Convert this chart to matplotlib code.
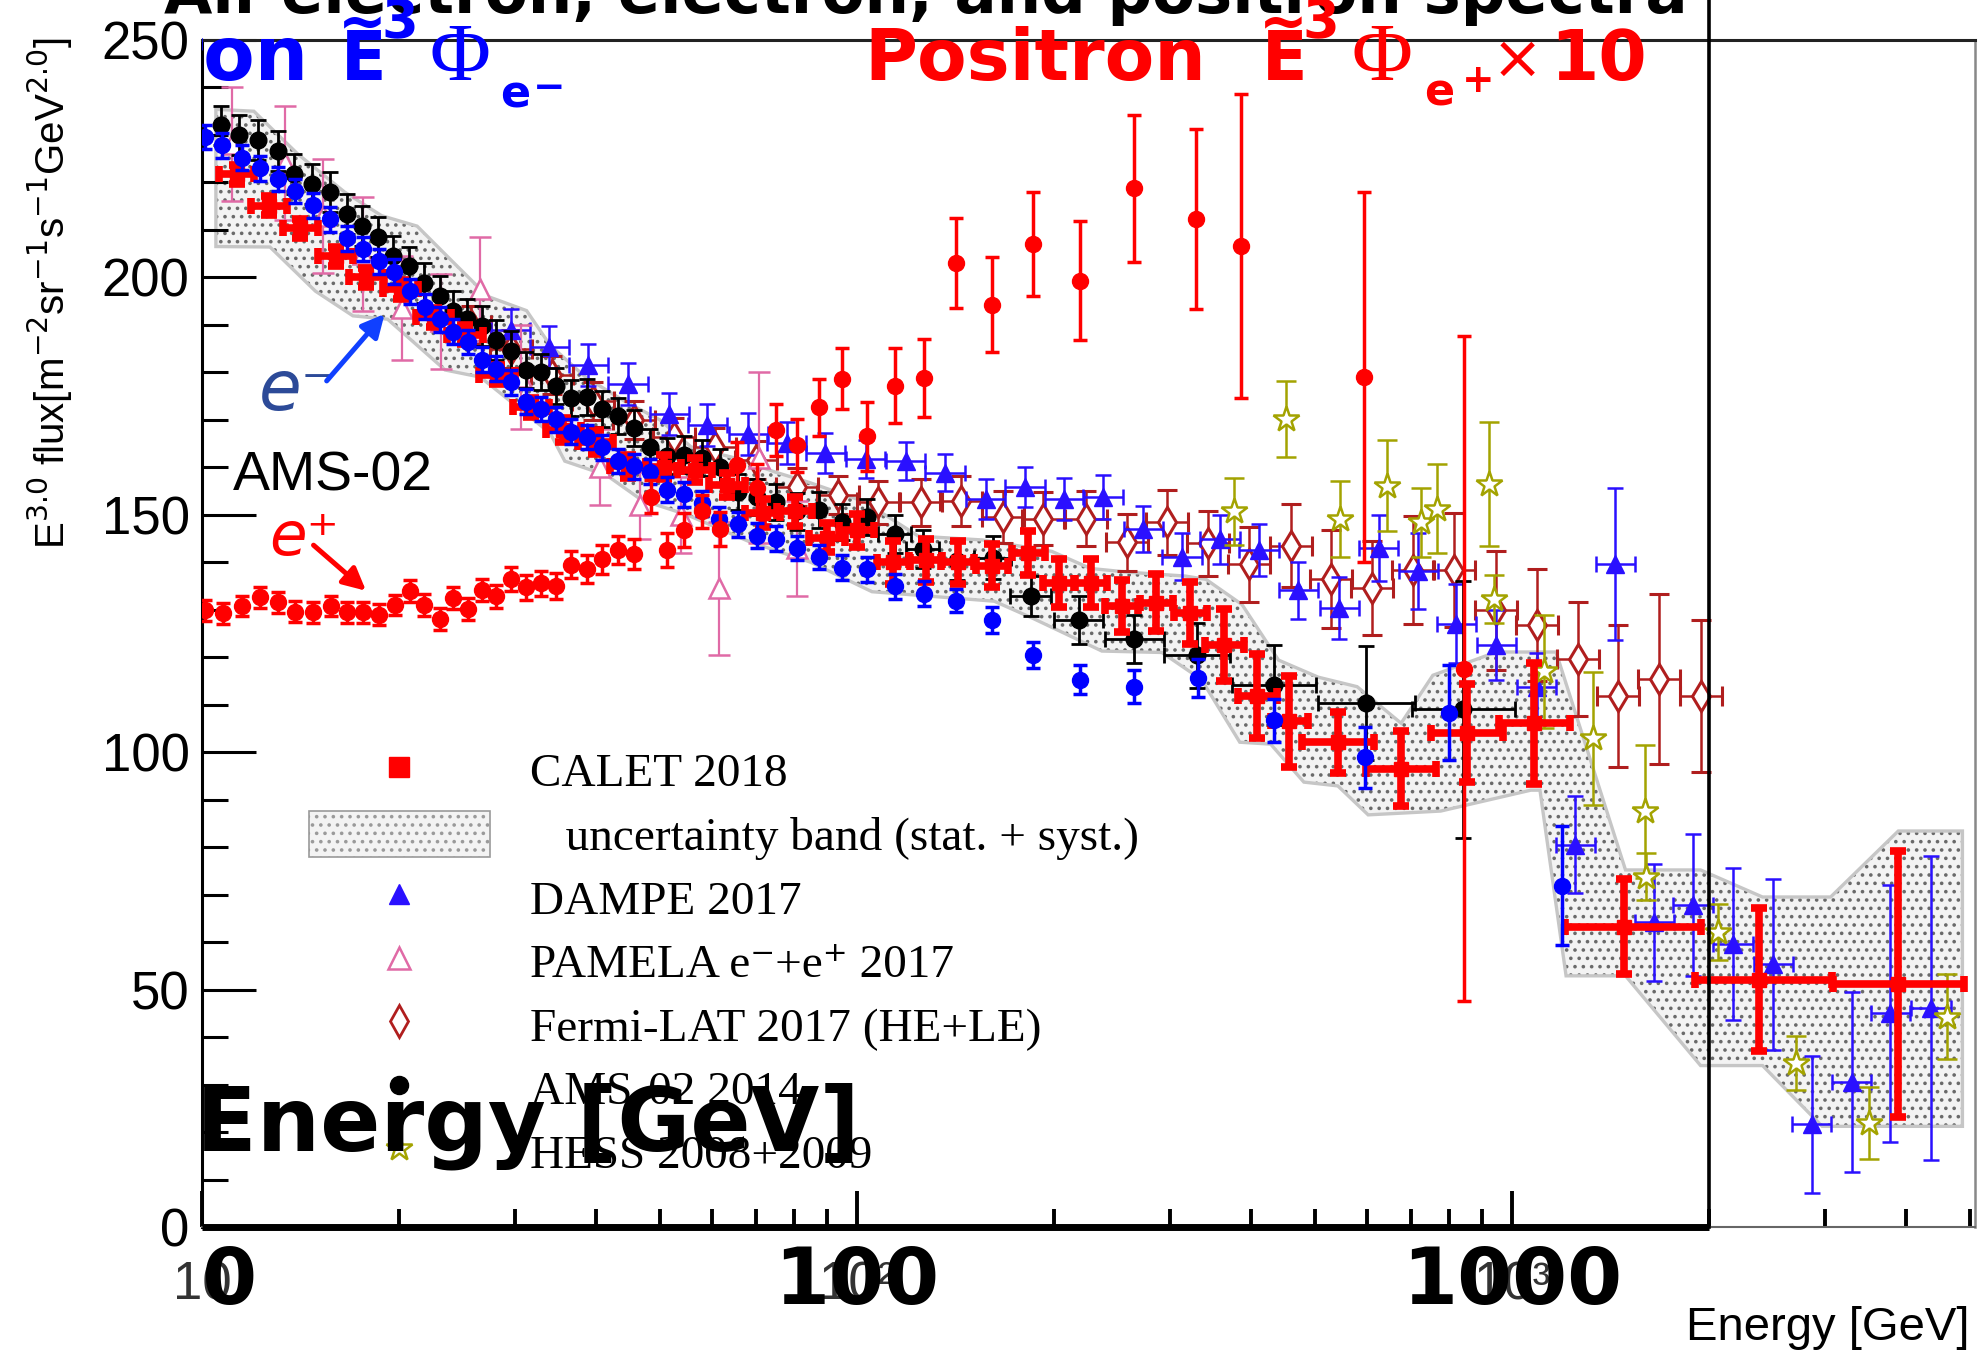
import numpy as np
import matplotlib
matplotlib.use("Agg")
import matplotlib.pyplot as plt
from matplotlib.lines import Line2D
from matplotlib.patches import Patch, Rectangle
from matplotlib.ticker import FixedLocator, NullFormatter

# ---------------- data ----------------
# AMS-02 electrons, E^3 flux
ams_e_E = [10.12, 10.72, 11.49, 12.27, 13.06, 13.89, 14.77, 15.67, 16.63, 17.62,
           18.62, 19.64, 20.76, 21.92, 23.05, 24.13, 25.5, 26.8, 28.15, 29.65,
           31.26, 32.94, 34.71, 36.6, 38.65, 40.86, 43.2, 45.7, 48.3, 51.2,
           54.4, 58.0, 61.6, 65.7, 70.4, 75.3, 81.1, 87.6, 94.9, 103.7,
           114.1, 126.4, 141.7, 160.7, 185.3, 218.8, 264.8, 331, 433.5, 596.6,
           801.5, 1193]
ams_e_V = [229.6, 227.8, 225.2, 223.0, 220.7, 218.2, 215.2, 212.2, 208.2, 206.0,
           203.4, 201.2, 197.1, 193.8, 191.2, 188.6, 186.4, 182.7, 180.8, 177.9,
           173.8, 172.3, 170.1, 167.5, 166.4, 164.2, 161.3, 160.2, 159.1, 155.3,
           154.3, 152.4, 149.1, 148.0, 145.6, 145.0, 143.0, 141.1, 138.9, 138.5,
           134.9, 133.4, 131.9, 127.8, 120.5, 115.3, 113.8, 115.6, 106.7, 98.9,
           108.3, 71.9]
ams_e_err = [2.6, 2.6, 2.6, 2.6, 2.6, 2.6, 2.6, 2.6, 2.6, 2.6,
             2.6, 2.6, 2.6, 2.6, 2.6, 2.6, 2.6, 2.6, 2.6, 2.6,
             2.6, 2.6, 2.6, 2.6, 2.6, 2.6, 2.6, 2.6, 2.6, 2.6,
             2.6, 2.6, 2.6, 2.6, 2.6, 2.6, 2.6, 2.6, 2.6, 2.6,
             2.6, 2.6, 2.4, 2.7, 2.7, 3.0, 3.5, 4.0, 4.6, 6.4,
             10.0, 12.5]

# AMS-02 positrons x10, E^3 flux
ams_p_E = [10.12, 10.76, 11.49, 12.27, 13.06, 13.89, 14.77, 15.71, 16.63, 17.62,
           18.62, 19.69, 20.76, 21.86, 23.05, 24.13, 25.5, 26.8, 28.15, 29.65,
           31.26, 32.94, 34.71, 36.6, 38.65, 40.86, 43.2, 45.7, 48.5, 51.3,
           54.5, 58.0, 61.7, 65.6, 70.4, 75.3, 81.1, 87.6, 94.9, 103.7,
           114.1, 126.4, 141.7, 160.7, 185.3, 218.8, 264.8, 328.7, 385, 594,
           845]
ams_p_V = [129.9, 129.3, 130.8, 132.6, 131.6, 129.6, 129.5, 130.8, 129.5, 129.5,
           129.0, 131.0, 133.9, 131.0, 128.0, 132.5, 130.2, 134.1, 132.8, 136.5,
           134.7, 135.6, 135.0, 139.5, 138.6, 140.6, 142.6, 141.7, 153.8, 142.6,
           146.8, 150.7, 147.0, 160.5, 155.7, 167.9, 164.6, 172.7, 178.7, 166.5,
           177.2, 178.8, 203.0, 194.2, 207.0, 199.3, 218.8, 212.3, 206.6, 179.0,
           117.6]
ams_p_err = [2.2, 2.2, 2.2, 2.2, 2.2, 2.2, 2.2, 2.2, 2.2, 2.2,
             2.2, 2.2, 2.3, 2.3, 2.3, 2.3, 2.3, 2.3, 2.4, 2.5,
             2.6, 2.6, 2.7, 2.8, 2.9, 3.0, 3.0, 3.2, 3.5, 3.5,
             3.5, 3.5, 3.6, 4.8, 5.0, 5.5, 5.6, 6.0, 6.5, 7.2,
             7.9, 8.3, 9.5, 10.0, 11.0, 12.5, 15.5, 19.0, 32.0, 39.0,
             70.0]

# AMS-02 2014 (electron + positron)
ams14_E = [10.69, 11.4, 12.16, 13.06, 13.82, 14.7, 15.67, 16.63, 17.57, 18.57,
           19.56, 20.73, 21.86, 23.05, 24.13, 25.4, 26.8, 28.15, 29.65, 31.26,
           32.94, 34.71, 36.6, 38.65, 40.86, 43.2, 45.7, 48.3, 51.2, 54.4,
           58.0, 61.7, 65.8, 70.4, 75.3, 81.1, 87.6, 94.9, 103.7, 114.1,
           126, 142, 161, 184.1, 217.9, 264.8, 330.5, 433.5, 598.6, 843]
ams14_V = [232.0, 230.0, 228.9, 226.6, 221.8, 219.6, 218.0, 213.4, 210.8, 208.6,
           204.5, 202.3, 198.9, 196.0, 193.0, 191.2, 189.7, 186.8, 184.5, 180.5,
           180.1, 177.1, 174.6, 174.9, 172.3, 170.9, 168.3, 164.2, 162.4, 162.7,
           162.0, 160.1, 154.8, 153.7, 152.6, 150.7, 151.1, 148.5, 149.6, 145.9,
           142.7, 140.3, 141.0, 132.9, 127.8, 123.8, 120.4, 114.2, 110.4, 109.0]
ams14_err = [4.2, 4.2, 4.2, 4.2, 4.2, 4.2, 4.2, 4.2, 4.2, 4.2,
             4.2, 4.2, 4.2, 4.2, 4.2, 4.2, 4.2, 4.2, 4.2, 3.8,
             3.8, 3.8, 3.8, 3.8, 3.8, 3.8, 3.8, 3.8, 3.8, 3.8,
             3.8, 3.8, 3.8, 3.8, 3.8, 3.8, 3.8, 3.8, 3.8, 4.0,
             4.0, 4.0, 4.5, 4.2, 5.0, 5.0, 6.9, 8.4, 12.0, 27.0]
ams14_dex = [0, 0, 0, 0, 0, 0, 0, 0, 0, 0,
             0, 0, 0, 0, 0, 0, 0, 0, 0, 0,
             0, 0, 0, 0, 0, 0, 0, 0, 0, 0,
             0, 0, 0, 0, 0, 0, 0, 0, 0, 0.025,
             0.025, 0.025, 0.028, 0.031, 0.038, 0.045, 0.05, 0.064, 0.074, 0.079]

# CALET 2018
calet_E = [11.30, 12.66, 14.13, 15.99, 17.82, 20.1, 22.57, 25.2, 28.2, 31.8,
           35.6, 39.9, 44.7, 50.7, 56.5, 63.3, 71.8, 80.3, 90.0, 99.9,
           113.6, 127.3, 142.4, 160.7, 182.5, 203.3, 227.5, 253.5, 286.5, 322.6,
           363.7, 408.4, 456.9, 542, 677, 854, 1082, 1481, 2381, 3886]
calet_V = [221.7, 215.1, 210.3, 204.5, 200.0, 197.5, 191.6, 187.9, 179.5, 172.7,
           167.9, 165.3, 160.2, 160.0, 159.5, 156.2, 150.4, 150.7, 145.2, 146.7,
           140.0, 140.4, 140.0, 139.3, 141.9, 135.6, 135.6, 130.8, 131.5, 129.3,
           122.6, 111.8, 106.5, 102.1, 96.5, 104.1, 106.1, 63.2, 52.1, 51.1]
calet_err = [2, 2, 2, 2, 2, 2, 2, 2, 2, 2,
             2.5, 2.5, 2.5, 2.5, 2.5, 2.5, 3, 3, 3, 3.5,
             4.5, 4.5, 4.5, 4.5, 4.6, 5, 5, 5.5, 6, 6.5,
             7.5, 8.9, 9.6, 6.4, 7.9, 10.3, 12.7, 10, 15, 28]
calet_dex_lo = [0.027, 0.027, 0.027, 0.027, 0.027, 0.027, 0.027, 0.027, 0.027, 0.027,
                0.027, 0.027, 0.027, 0.027, 0.027, 0.027, 0.027, 0.027, 0.027, 0.027,
                0.025, 0.025, 0.025, 0.025, 0.025, 0.025, 0.025, 0.025, 0.025, 0.025,
                0.03, 0.03, 0.028, 0.055, 0.054, 0.055, 0.054, 0.09, 0.097, 0.10]
calet_dex_hi = [0.027, 0.027, 0.027, 0.027, 0.027, 0.027, 0.027, 0.027, 0.027, 0.027,
                0.027, 0.027, 0.027, 0.027, 0.027, 0.027, 0.027, 0.027, 0.027, 0.027,
                0.025, 0.025, 0.025, 0.025, 0.025, 0.025, 0.025, 0.025, 0.025, 0.025,
                0.03, 0.03, 0.028, 0.055, 0.054, 0.055, 0.054, 0.118, 0.112, 0.10]

# CALET uncertainty band (outline vertices)
band_up_E = [10.5, 12.0, 14.0, 16.5, 18.8, 21.3, 24.1, 27.3, 31.3, 34.0,
             38.5, 44.2, 50.0, 55.8, 65, 75, 84.6, 102.5, 124.1, 155.5,
             198.3, 227.2, 260, 317, 341, 387, 440, 506, 580, 677,
             757, 946, 1167, 1490, 1940, 2412, 3064, 3887, 4870]
band_up_V = [235.4, 235.0, 226, 218, 213, 210.8, 203.4, 196, 193, 185.7,
             179, 173.9, 170, 164.3, 162, 159, 156.8, 152.8, 145.5, 144.7,
             142.3, 138.7, 137.9, 137.1, 136.4, 131.1, 119.4, 115.8, 113.8, 106.1,
             116.2, 121.1, 121.1, 75.2, 75.2, 69.5, 69.5, 83.4, 83.4]
band_lo_E = [10.5, 12.7, 14.9, 17.0, 19.2, 23.5, 26.6, 34.0, 35.8, 41.5,
             46.9, 55, 68.6, 85, 105.4, 162, 185.5, 236.5, 292, 335.6,
             384, 428, 481, 542, 603, 778, 1068, 1103, 1209, 1490,
             1940, 2412, 2974, 4870]
band_lo_V = [206.5, 206.4, 197.1, 191.9, 191.2, 180.5, 179.0, 167.2, 161.3, 158.3,
             153.1, 150, 144.3, 140, 133.8, 131.8, 128.2, 121.3, 121.0, 115.3,
             102.1, 101.7, 93.7, 92.9, 86.8, 87.6, 92.0, 92.0, 52.9, 52.9,
             34.0, 34.0, 21.2, 21.2]

# DAMPE 2017
dampe_E = [29.6, 33.9, 38.9, 44.7, 51.7, 59.1, 68.2, 78.1, 89.5, 103.1,
           118.6, 136.3, 157.1, 180.4, 207.3, 237.5, 273.4, 313.5, 358, 411,
           472, 545, 626, 719, 822, 946, 1090, 1249, 1437, 1648,
           1889, 2173, 2505, 2868, 3299, 3781, 4360]
dampe_V = [189.0, 185.3, 181.6, 177.5, 171.3, 168.9, 167.1, 165.1, 163.1, 161.8,
           161.4, 158.9, 153.3, 155.9, 153.3, 153.7, 147.0, 141.2, 144.8, 142.6,
           134.1, 130.3, 143.0, 138.1, 127.1, 122.6, 113.8, 80.5, 139.6, 64.2,
           67.8, 59.6, 55.3, 21.6, 30.5, 45.0, 46.1]
dampe_err = [4.4, 4.4, 4.4, 4.4, 4.4, 4.4, 4.4, 4.4, 4.2, 4.0,
             4.0, 3.9, 4.2, 4.2, 4.4, 4.6, 4.8, 5.0, 5.2, 5.5,
             6.0, 6.5, 7.0, 8.0, 8.4, 7.3, 7.0, 10.2, 16.0, 12.3,
             15.0, 16.0, 18.0, 14.4, 19.0, 27.0, 32.0]
DAMPE_DEX = 0.03

# PAMELA e- + e+ 2017
pamela_E = [11.1, 13.4, 15.3, 17.6, 20.2, 23.2, 26.6, 30.7, 40.5, 46.7, 53.8, 61.6, 70.9, 81.0]
pamela_V = [228, 224, 213, 205, 193.5, 190.8, 197.5, 179, 160, 152, 150, 134.5, 162, 143]
pamela_err = [12, 12, 12, 12, 11, 10, 11, 11, 8, 7, 8, 14, 18, 10]

# Fermi-LAT 2017 (HE+LE)
fermi_E = [25.7, 29.6, 34.2, 39.5, 45.6, 52.6, 60.7, 70.1, 80.9, 93.4,
           107.8, 125.1, 144.0, 166.9, 192.5, 223.9, 258.5, 297.5, 343.6, 396,
           459.3, 528.6, 611, 707, 816, 946, 1090, 1259, 1450, 1676, 1944]
fermi_V = [190, 185, 179.4, 174, 170, 166.3, 164.3, 161.5, 155.9, 154.1,
           152.6, 152.6, 152.9, 149.6, 149.2, 149.2, 144.2, 148.4, 144.0, 139.6,
           143.5, 136.4, 134.6, 138.4, 138.4, 129.9, 126.7, 119.6, 111.8, 115.4, 111.8]
fermi_err = [4, 4, 4, 4, 4, 4, 4, 4, 4, 4,
             4.5, 5, 5.3, 5.5, 5.5, 5.8, 6, 6.9, 6.9, 7.9,
             8.7, 10.3, 9.9, 11.4, 12, 12.5, 11.8, 12, 15, 17.9, 16]
FERMI_DEX = 0.032

# HESS 2008+2009
hess_E = [375.6, 451.7, 545.2, 645, 726, 768, 921, 940, 1120, 1330, 1597, 1600, 2063, 2713, 3509, 4608]
hess_V = [150.7, 170.2, 149.2, 156.1, 148.4, 151.3, 156.5, 132.3, 117.0, 102.9, 87.6, 73.8, 62.1, 34.5, 21.9, 44.3]
hess_err = [7, 8, 8, 9.6, 7.3, 9.3, 13.1, 5, 12, 14, 14, 5, 5.9, 5.7, 7.5, 9]

X_TICKS = [10, 100, 1000]
X_TICK_LABELS = ["10", "10\u00b2", "10\u00b3"]
X_BIG_LABELS = ["10", "100", "1000"]
X_MINOR = [20, 30, 40, 50, 60, 70, 80, 90, 200, 300, 400, 500, 600, 700, 800, 900,
           2000, 3000, 4000, 5000]
Y_TICKS = [0, 50, 100, 150, 200, 250]
Y_MINOR = [10, 20, 30, 40, 60, 70, 80, 90, 110, 120, 130, 140, 160, 170, 180, 190,
           210, 220, 230, 240]
LEGEND_LABELS = ["CALET 2018", "   uncertainty band (stat. + syst.)", "DAMPE 2017",
                 "PAMELA e\u207b+e\u207a 2017", "Fermi-LAT 2017 (HE+LE)",
                 "AMS-02 2014", "HESS 2008+2009"]
PANEL_SPLIT_E = 2000

# ---------------- styles ----------------
RED = "#ff0000"
BLUE = "#0000ff"
DAMPE_C = "#2a10ff"
PAMELA_C = "#e06aa6"
FERMI_C = "#b01e1e"
HESS_C = "#a3a300"
NARROW = ["Liberation Sans Narrow", "Liberation Sans", "DejaVu Sans"]
SANS = ["Liberation Sans", "DejaVu Sans"]
SERIF = ["Liberation Serif", "DejaVu Serif"]
HEAVY = ["DejaVu Sans"]

plt.rcParams["mathtext.fontset"] = "custom"
plt.rcParams["mathtext.rm"] = "Liberation Sans Narrow"
plt.rcParams["mathtext.it"] = "Liberation Sans Narrow:italic"
plt.rcParams["mathtext.bf"] = "Liberation Sans Narrow:bold"
plt.rcParams["hatch.linewidth"] = 1.4

W, H = 1979, 1354


def fx(x):
    return x / W


def fy(y):
    return 1 - y / H


def dex_err(E, lo, hi):
    E = np.asarray(E, float)
    lo = np.asarray(lo, float)
    hi = np.asarray(hi, float)
    return [E - E / 10 ** lo, E * 10 ** hi - E]


fig = plt.figure(figsize=(W / 100, H / 100), dpi=100)
ax = fig.add_axes([fx(202), fy(1227), 1773 / W, 1187 / H])
ax.set_xscale("log")
ax.set_xlim(10, 5090)
ax.set_ylim(0, 250)

# band
bx = np.r_[band_up_E, band_lo_E[::-1]]
by = np.r_[band_up_V, band_lo_V[::-1]]
ax.fill(bx, by, facecolor="#f3f3f3", edgecolor="#6a6a6a", hatch="..", linewidth=0, zorder=1)
ax.fill(bx, by, facecolor="none", edgecolor="#c6c6c6", linewidth=2.4, zorder=1.1)

# Fermi
ax.errorbar(fermi_E, fermi_V, yerr=fermi_err, xerr=dex_err(fermi_E, FERMI_DEX, FERMI_DEX),
            fmt="d", ms=15, mfc="white", mec=FERMI_C, mew=2.2, ecolor=FERMI_C,
            elinewidth=1.8, capsize=7, capthick=1.8, zorder=2)
# DAMPE
ax.errorbar(dampe_E, dampe_V, yerr=dampe_err, xerr=dex_err(dampe_E, DAMPE_DEX, DAMPE_DEX),
            fmt="^", ms=12.5, color=DAMPE_C, elinewidth=1.8, capsize=6, capthick=1.8, zorder=3)
# PAMELA
ax.errorbar(pamela_E, pamela_V, yerr=pamela_err, fmt="^", ms=15, mfc="white", mec=PAMELA_C,
            mew=1.8, ecolor=PAMELA_C, elinewidth=1.6, capsize=8, capthick=1.6, zorder=3)
# HESS
ax.errorbar(hess_E, hess_V, yerr=hess_err, fmt="*", ms=19, mfc="white", mec=HESS_C,
            mew=1.8, ecolor=HESS_C, elinewidth=1.8, capsize=7, capthick=1.8, zorder=3.5)
# AMS-02 2014
ax.errorbar(ams14_E, ams14_V, yerr=ams14_err, xerr=dex_err(ams14_E, ams14_dex, ams14_dex),
            fmt="o", ms=12, color="black", elinewidth=2.0, capsize=6, capthick=2.0, zorder=4)
# CALET
ax.errorbar(calet_E, calet_V, yerr=calet_err, xerr=dex_err(calet_E, calet_dex_lo, calet_dex_hi),
            fmt="s", ms=10, color=RED, elinewidth=5.5, capsize=6, capthick=5.5, zorder=5)
# AMS-02 electrons
ax.errorbar(ams_e_E, ams_e_V, yerr=ams_e_err, fmt="o", ms=11.5, color=BLUE,
            elinewidth=2.5, capsize=5, capthick=2.5, zorder=6)
# AMS-02 positrons
ax.errorbar(ams_p_E, ams_p_V, yerr=ams_p_err, fmt="o", ms=11.5, color=RED,
            elinewidth=2.5, capsize=5, capthick=2.5, zorder=7)

# axes cosmetics
ax.set_xticks(X_TICKS, X_TICK_LABELS)
ax.xaxis.set_minor_locator(FixedLocator(X_MINOR))
ax.xaxis.set_minor_formatter(NullFormatter())
ax.set_yticks(Y_TICKS)
ax.yaxis.set_minor_locator(FixedLocator(Y_MINOR))
ax.tick_params(axis="x", which="major", direction="in", length=26, width=2.8,
               labelsize=38, pad=24, labelcolor="#333333", top=False)
ax.tick_params(axis="x", which="minor", direction="in", length=13, width=2.8, top=False)
ax.tick_params(axis="y", which="major", direction="in", length=39, width=2.2,
               labelsize=38, pad=9, right=False)
ax.tick_params(axis="y", which="minor", direction="in", length=19, width=2.2, right=False)
for lab in ax.get_xticklabels() + ax.get_yticklabels():
    lab.set_fontfamily(NARROW)
ax.spines["left"].set_linewidth(2.2)
ax.spines["top"].set_linewidth(2.2)
ax.spines["top"].set_color("#222222")
ax.spines["right"].set_linewidth(1.8)
ax.spines["right"].set_color("#888888")
ax.spines["bottom"].set_linewidth(1.5)
ax.spines["bottom"].set_color("#666666")
ax.hlines(0, 10, PANEL_SPLIT_E, colors="black", linewidth=5, zorder=10, clip_on=False)
ax.axvline(PANEL_SPLIT_E, 0, 1 + 40 / 1187, color="black", linewidth=2.6, zorder=10, clip_on=False)

# legend
handles = [
    Line2D([], [], ls="none", marker="s", ms=14, color=RED),
    Patch(facecolor="#f3f3f3", edgecolor="#9a9a9a", hatch="..", linewidth=1.2),
    Line2D([], [], ls="none", marker="^", ms=14, color=DAMPE_C),
    Line2D([], [], ls="none", marker="^", ms=16, mfc="white", mec=PAMELA_C, mew=1.8),
    Line2D([], [], ls="none", marker="d", ms=16, mfc="white", mec=FERMI_C, mew=2.0),
    Line2D([], [], ls="none", marker="o", ms=13, color="black"),
    Line2D([], [], ls="none", marker="*", ms=20, mfc="white", mec=HESS_C, mew=1.8),
]
ax.legend(handles, LEGEND_LABELS, loc="upper left", bbox_to_anchor=(fx(309), fy(747)),
          bbox_transform=fig.transFigure, frameon=False,
          prop={"family": SERIF, "size": 34}, handlelength=3.83, handleheight=1.15,
          handletextpad=0.85, labelspacing=0.30, borderpad=0, borderaxespad=0,
          numpoints=1)

# axis titles (ROOT style)
fig.text(fx(50), fy(38), r"E$^{3.0}$ flux[m$^{-2}$sr$^{-1}$s$^{-1}$GeV$^{2.0}$]",
         rotation=90, ha="center", va="top", fontsize=29, family=NARROW)
fig.text(fx(1969), fy(1340), "Energy [GeV]", ha="right", va="baseline",
         fontsize=34, family=NARROW)

# annotations
ax.text(11.15, 155.2, "AMS-02", fontsize=40, family=SANS, ha="left", va="baseline", zorder=12)
ax.text(12.2, 172, "e\u207b", fontsize=50, family=HEAVY, style="italic", color="#2c4a98",
        ha="left", va="baseline", zorder=12)
ax.text(12.65, 141.5, "e\u207a", fontsize=44, family=HEAVY, style="italic", color=RED,
        ha="left", va="baseline", zorder=12)
ax.annotate("", xy=(19.0, 192.3), xytext=(15.5, 178.2),
            arrowprops=dict(arrowstyle="-|>", color="#1040ff", lw=3.6, mutation_scale=34,
                            shrinkA=0, shrinkB=0), zorder=12)
ax.annotate("", xy=(17.8, 134.0), xytext=(14.8, 143.6),
            arrowprops=dict(arrowstyle="-|>", color=RED, lw=3.6, mutation_scale=34,
                            shrinkA=0, shrinkB=0), zorder=12)

# overlay texts (clipped at the left frame edge)
clip_rect = Rectangle((fx(202), 0), 1.0, 1.0, transform=fig.transFigure)


def overlay(x, y, s, **kw):
    t = fig.text(fx(x), fy(y), s, **kw)
    t.set_clip_path(clip_rect)
    t.set_clip_on(True)
    return t


# title line (cut by the top of the picture)
fig.text(fx(164), fy(13), "All-electron, electron, and positron spectra", fontsize=45,
         fontweight="bold", family=HEAVY, ha="left", va="baseline")

# electron label
overlay(308, 80, "Electron", fontsize=54, fontweight="bold", family=HEAVY, color=BLUE,
        ha="right", va="baseline")
overlay(341, 80, "E", fontsize=48, fontweight="bold", family=HEAVY, color=BLUE, va="baseline")
overlay(338, 41, "~", fontsize=42, fontweight="bold", family=HEAVY, color=BLUE, va="baseline")
overlay(381, 38, "3", fontsize=38, fontweight="bold", family=HEAVY, color=BLUE, va="baseline")
overlay(430, 80, "\u03a6", fontsize=60, family=SERIF, color=BLUE, va="baseline")
overlay(500, 107, "e", fontsize=32, fontweight="bold", family=HEAVY, color=BLUE, va="baseline")
overlay(533, 99, "\u2212", fontsize=28, fontweight="bold", family=HEAVY, color=BLUE, va="baseline")

# positron label
overlay(864, 80, "Positron", fontsize=52, fontweight="bold", family=HEAVY, color=RED, va="baseline")
overlay(1262, 80, "E", fontsize=48, fontweight="bold", family=HEAVY, color=RED, va="baseline")
overlay(1259, 41, "~", fontsize=42, fontweight="bold", family=HEAVY, color=RED, va="baseline")
overlay(1302, 38, "3", fontsize=38, fontweight="bold", family=HEAVY, color=RED, va="baseline")
overlay(1352, 80, "\u03a6", fontsize=60, family=SERIF, color=RED, va="baseline")
overlay(1424, 105, "e", fontsize=32, fontweight="bold", family=HEAVY, color=RED, va="baseline")
overlay(1462, 92, "+", fontsize=28, fontweight="bold", family=HEAVY, color=RED, va="baseline")
overlay(1492, 78, "\u00d7", fontsize=44, family=HEAVY, color=RED, va="baseline")
overlay(1550, 80, "10", fontsize=50, fontweight="bold", family=HEAVY, color=RED, va="baseline")

# big axis overlay
overlay(196, 1151, "Energy [GeV]", fontsize=64, fontweight="bold", family=HEAVY,
        color="black", va="baseline")
for xv, lab in zip(X_TICKS, X_BIG_LABELS):
    t = ax.text(xv, (1227 - 1282) / 1187, lab, transform=ax.get_xaxis_transform(),
                ha="center", va="center", fontsize=57, fontweight="bold", family=HEAVY,
                color="black", zorder=20)
    t.set_clip_path(clip_rect)
    t.set_clip_on(True)

fig.savefig("out.png", dpi=100)
